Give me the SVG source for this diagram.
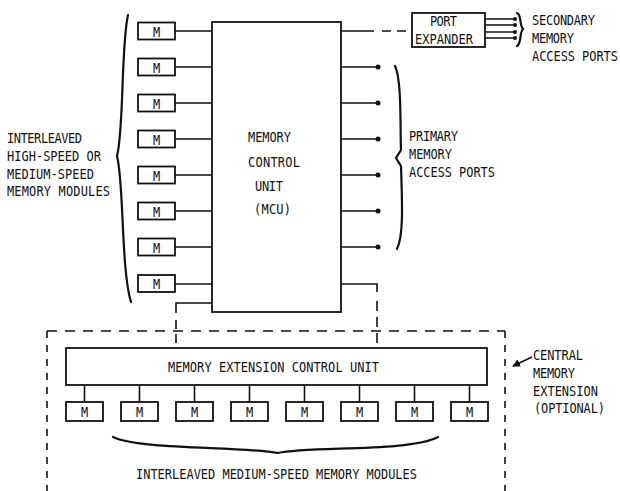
<svg xmlns="http://www.w3.org/2000/svg" width="620" height="491" viewBox="0 0 620 491">
<defs>
<style>
text{font-family:"DejaVu Sans Mono","Liberation Mono",monospace;font-size:12px;fill:#111;}
.m{text-anchor:middle;}
.box{fill:#fff;stroke:#111;stroke-width:1.8;}
.ln{fill:none;stroke:#111;stroke-width:1.6;}
.dh{fill:none;stroke:#111;stroke-width:1.6;stroke-dasharray:10 8;}
.dv{fill:none;stroke:#111;stroke-width:1.6;stroke-dasharray:7 7;}
.brace{fill:none;stroke:#111;stroke-width:2.2;stroke-linecap:round;}
.dot{fill:#111;}
</style>
<marker id="ah" markerWidth="8" markerHeight="8" refX="7" refY="4" orient="auto" markerUnits="userSpaceOnUse">
<path d="M0,0 L8,4 L0,8 Z" fill="#111"/>
</marker>
</defs>
<rect width="620" height="491" fill="#fff"/>

<g id="connectors">
<path class="ln" d="M175,31H212M175,67H212M175,103H212M175,139H212M175,175H212M175,211H212M175,247H212M175,284H212"/>
<path class="ln" d="M341,67H378M341,103H378M341,139H378M341,175H378M341,211H378M341,247H378"/>
<circle class="dot" cx="378" cy="67" r="2.5"/>
<circle class="dot" cx="378" cy="103" r="2.5"/>
<circle class="dot" cx="378" cy="139" r="2.5"/>
<circle class="dot" cx="378" cy="175" r="2.5"/>
<circle class="dot" cx="378" cy="211" r="2.5"/>
<circle class="dot" cx="378" cy="247" r="2.5"/>
<path class="ln" d="M341,31H374"/>
<path class="ln" stroke-dasharray="9 6" d="M382,31H412"/>
<path class="ln" d="M485,19H515M485,25H515M485,32H515M485,38H515"/>
<circle class="dot" cx="515" cy="19" r="2"/>
<circle class="dot" cx="515" cy="25" r="2"/>
<circle class="dot" cx="515" cy="32" r="2"/>
<circle class="dot" cx="515" cy="38" r="2"/>
<path class="ln" d="M212,303H176V313"/>
<path class="ln" stroke-dasharray="9 5" d="M176,320V348"/>
<path class="ln" d="M341,284H377V292"/>
<path class="ln" stroke-dasharray="10 6" d="M377,301V348"/>
<path class="dh" d="M47,331H505"/>
<path class="dv" d="M47,331V491"/>
<path class="dv" d="M505,331V491"/>
<path class="ln" d="M84.5,385V402M139.5,385V402M194.5,385V402M249.5,385V402M304.5,385V402M359.5,385V402M414.5,385V402M469.5,385V402"/>
<path class="ln" d="M532,357L513,366" marker-end="url(#ah)"/>
<path class="brace" d="M128,15C121,45 124,130 117,156C124,182 121,270 131,302"/>
<path class="brace" d="M395,66C402,80 400,130 401,150L396,158L401,166C402,200 404,235 397,249"/>
<path class="brace" stroke-width="1.6" d="M517,13C522,15 519,25 523,29C519,33 522,43 517,46"/>
<path class="brace" stroke-width="2.8" d="M113,437C140,450 240,446 278,453C310,446 410,452 438,437"/>
</g>

<g id="mcu">
<rect class="box" x="212" y="22" width="129" height="290"/>
<text transform="matrix(1 0 0 1.2 248 142)" textLength="43">MEMORY</text>
<text transform="matrix(1 0 0 1.2 248 167)" textLength="52">CONTROL</text>
<text transform="matrix(1 0 0 1.2 255 191)" textLength="28">UNIT</text>
<text transform="matrix(1 0 0 1.2 254 214)" textLength="37">(MCU)</text>
</g>

<g id="left-modules">
<g id="lm1"><rect class="box" x="138" y="22.5" width="37" height="17"/><text class="m" transform="matrix(1 0 0 1.2 156.5 36.5)">M</text></g>
<g id="lm2"><rect class="box" x="138" y="58.5" width="37" height="17"/><text class="m" transform="matrix(1 0 0 1.2 156.5 72.5)">M</text></g>
<g id="lm3"><rect class="box" x="138" y="94.5" width="37" height="17"/><text class="m" transform="matrix(1 0 0 1.2 156.5 108.5)">M</text></g>
<g id="lm4"><rect class="box" x="138" y="130.5" width="37" height="17"/><text class="m" transform="matrix(1 0 0 1.2 156.5 144.5)">M</text></g>
<g id="lm5"><rect class="box" x="138" y="166.5" width="37" height="17"/><text class="m" transform="matrix(1 0 0 1.2 156.5 180.5)">M</text></g>
<g id="lm6"><rect class="box" x="138" y="202.5" width="37" height="17"/><text class="m" transform="matrix(1 0 0 1.2 156.5 216.5)">M</text></g>
<g id="lm7"><rect class="box" x="138" y="238.5" width="37" height="17"/><text class="m" transform="matrix(1 0 0 1.2 156.5 252.5)">M</text></g>
<g id="lm8"><rect class="box" x="138" y="275" width="37" height="17"/><text class="m" transform="matrix(1 0 0 1.2 156.5 289)">M</text></g>
</g>

<g id="port-expander">
<rect class="box" x="412" y="13" width="73" height="34"/>
<text transform="matrix(1 0 0 1.2 430 26)" textLength="27">PORT</text>
<text transform="matrix(1 0 0 1.2 415 44)" textLength="58">EXPANDER</text>
</g>

<g id="mecu">
<rect class="box" x="66" y="348" width="421" height="37"/>
<text transform="matrix(1 0 0 1.2 168 372)" textLength="211">MEMORY EXTENSION CONTROL UNIT</text>
</g>

<g id="bottom-modules">
<g id="bm1"><rect class="box" x="66" y="402" width="37" height="19"/><text class="m" transform="matrix(1 0 0 1.2 84.5 416.5)">M</text></g>
<g id="bm2"><rect class="box" x="121" y="402" width="37" height="19"/><text class="m" transform="matrix(1 0 0 1.2 139.5 416.5)">M</text></g>
<g id="bm3"><rect class="box" x="176" y="402" width="37" height="19"/><text class="m" transform="matrix(1 0 0 1.2 194.5 416.5)">M</text></g>
<g id="bm4"><rect class="box" x="231" y="402" width="37" height="19"/><text class="m" transform="matrix(1 0 0 1.2 249.5 416.5)">M</text></g>
<g id="bm5"><rect class="box" x="286" y="402" width="37" height="19"/><text class="m" transform="matrix(1 0 0 1.2 304.5 416.5)">M</text></g>
<g id="bm6"><rect class="box" x="341" y="402" width="37" height="19"/><text class="m" transform="matrix(1 0 0 1.2 359.5 416.5)">M</text></g>
<g id="bm7"><rect class="box" x="396" y="402" width="37" height="19"/><text class="m" transform="matrix(1 0 0 1.2 414.5 416.5)">M</text></g>
<g id="bm8"><rect class="box" x="451" y="402" width="37" height="19"/><text class="m" transform="matrix(1 0 0 1.2 469.5 416.5)">M</text></g>
</g>

<g id="labels">
<text transform="matrix(1 0 0 1.2 7 143)" textLength="75">INTERLEAVED</text>
<text transform="matrix(1 0 0 1.2 7 161)" textLength="94">HIGH-SPEED OR</text>
<text transform="matrix(1 0 0 1.2 7 178.5)" textLength="87">MEDIUM-SPEED</text>
<text transform="matrix(1 0 0 1.2 7 196)" textLength="103">MEMORY MODULES</text>

<text transform="matrix(1 0 0 1.2 409 141)" textLength="49">PRIMARY</text>
<text transform="matrix(1 0 0 1.2 409 159)" textLength="43">MEMORY</text>
<text transform="matrix(1 0 0 1.2 409 177)" textLength="86">ACCESS PORTS</text>

<text transform="matrix(1 0 0 1.2 532 25)" textLength="63">SECONDARY</text>
<text transform="matrix(1 0 0 1.2 532 43)" textLength="42">MEMORY</text>
<text transform="matrix(1 0 0 1.2 532 60.5)" textLength="86">ACCESS PORTS</text>

<text transform="matrix(1 0 0 1.2 533 360)" textLength="50">CENTRAL</text>
<text transform="matrix(1 0 0 1.2 533 378)" textLength="42">MEMORY</text>
<text transform="matrix(1 0 0 1.2 533 396)" textLength="65">EXTENSION</text>
<text transform="matrix(1 0 0 1.2 534 413)" textLength="71">(OPTIONAL)</text>

<text transform="matrix(1 0 0 1.2 136 479)" textLength="281">INTERLEAVED MEDIUM-SPEED MEMORY MODULES</text>
</g>
</svg>
